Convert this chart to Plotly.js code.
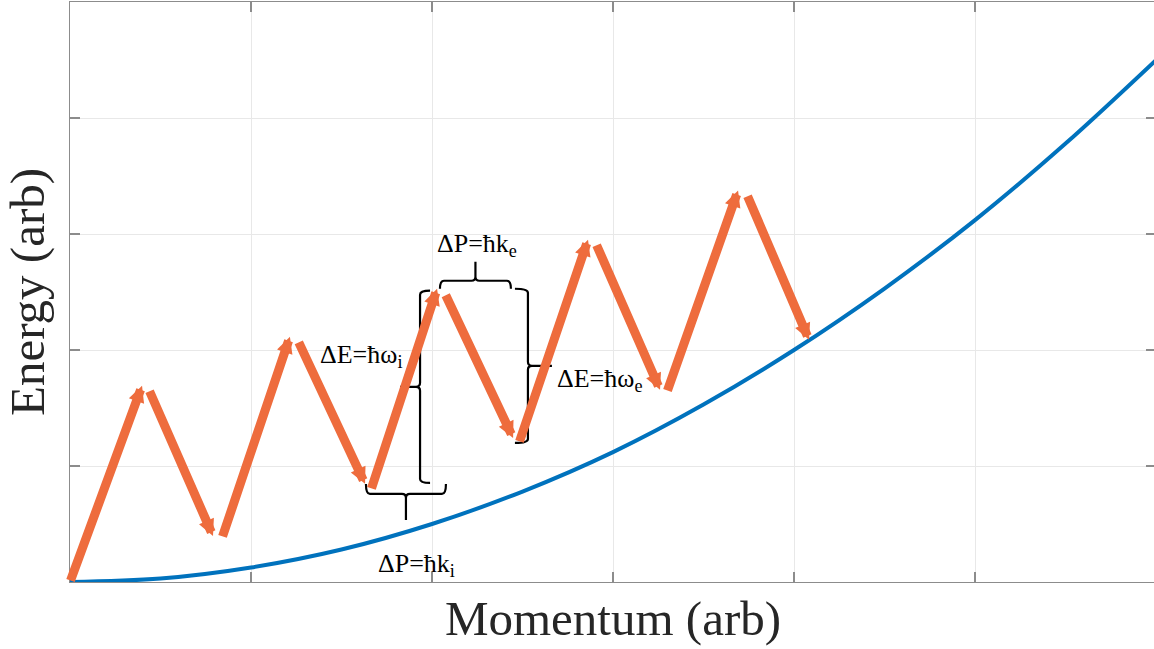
<!DOCTYPE html>
<html>
<head>
<meta charset="utf-8">
<script src="https://cdn.plot.ly/plotly-3.0.1.min.js"></script>
<style>
html,body{margin:0;padding:0;overflow:hidden;background:#fff;}
#plot{width:1156px;height:649px;}
</style>
</head>
<body>
<div id="plot"></div>
<script>
// Blue dispersion curve
const curveX = [0, 0.5, 1, 1.5, 2, 2.5, 3, 3.5, 4, 4.5, 5, 5.5, 6];
const curveY = [0, 0.03, 0.125, 0.28, 0.5, 0.78, 1.12, 1.53, 2.0, 2.53, 3.12, 3.78, 4.5];

// Orange arrows: tails and heads
const tailX = [0.00, 0.436, 0.840, 1.260, 1.663, 2.072, 2.481, 2.906, 3.298, 3.740];
const tailY = [0.00, 1.657, 0.380, 2.079, 0.794, 2.485, 1.199, 2.916, 1.639, 3.339];
const headX = [0.398, 0.790, 1.215, 1.630, 2.028, 2.448, 2.862, 3.260, 3.691, 4.083];
const headY = [1.691, 0.397, 2.114, 0.846, 2.528, 1.242, 2.951, 1.657, 3.374, 2.088];

// Braces: orientation, fixed coord, span start, span end, tip direction, tip length px, hook length px
const braceOrient = ['v', 'v', 'h', 'h'];
const braceFixed  = [1.934, 2.530, 2.597, 0.759];
const braceFrom   = [0.854, 1.199, 2.044, 1.635];
const braceTo     = [2.511, 2.528, 2.436, 2.077];
const braceTipDir = [-1, 1, 1, -1];
const braceTipLen = [20, 24, 19, 26];
const braceHook   = [10, 13, 8, 10];

// Labels
const labelText = ['ΔE=ħω<sub>i</sub>', 'ΔP=ħk<sub>e</sub>', 'ΔE=ħω<sub>e</sub>', 'ΔP=ħk<sub>i</sub>'];
const labelX = [1.845, 2.249, 2.680, 1.912];
const labelY = [1.950, 2.908, 1.743, 0.147];
const labelAnchor = ['right', 'center', 'left', 'center'];

const SERIF = '"Liberation Serif", "Times New Roman", Times, serif';
const X_RANGE = [0, 6], Y_RANGE = [0, 5];
const M = {l: 70, r: 0, t: 2, b: 67};
const W = 1156, H = 649;
const pxX = (X_RANGE[1] - X_RANGE[0]) / (W - M.l - M.r);
const pxY = (Y_RANGE[1] - Y_RANGE[0]) / (H - M.t - M.b);

function bracePath(i) {
  const o = braceOrient[i], f = braceFixed[i], a = braceFrom[i], b = braceTo[i];
  const d = braceTipDir[i], tip = braceTipLen[i], hook = braceHook[i];
  const m = (a + b) / 2;
  if (o === 'v') {
    const r = 4 * pxY, hx = -d * hook * pxX, tx = d * tip * pxX, rx = d * 4 * pxX;
    return `M${f + hx},${a} Q${f},${a} ${f},${a + r} L${f},${m - r} Q${f},${m} ${f + rx},${m} L${f + tx},${m} ` +
           `M${f + rx},${m} Q${f},${m} ${f},${m + r} L${f},${b - r} Q${f},${b} ${f + hx},${b}`;
  } else {
    const r = 4 * pxX, hy = -d * hook * pxY, ty = d * tip * pxY, ry = d * 4 * pxY;
    return `M${a},${f + hy} Q${a},${f} ${a + r},${f} L${m - r},${f} Q${m},${f} ${m},${f + ry} L${m},${f + ty} ` +
           `M${m},${f + ry} Q${m},${f} ${m + r},${f} L${b - r},${f} Q${b},${f} ${b},${f + hy}`;
  }
}

const shapes = braceOrient.map((_, i) => ({
  type: 'path', xref: 'x', yref: 'y', path: bracePath(i),
  line: {color: '#000000', width: 2.2}
}));

const annotations = [];
for (let i = 0; i < tailX.length; i++) {
  annotations.push({
    x: headX[i], y: headY[i], ax: tailX[i], ay: tailY[i],
    xref: 'x', yref: 'y', axref: 'x', ayref: 'y',
    text: '', showarrow: true, arrowhead: 2, arrowsize: 0.36,
    arrowwidth: 9, arrowcolor: '#EE6C3D', standoff: 0, startstandoff: 0
  });
}
for (let i = 0; i < labelText.length; i++) {
  annotations.push({
    x: labelX[i], y: labelY[i], xref: 'x', yref: 'y', text: labelText[i],
    showarrow: false, xanchor: labelAnchor[i], yanchor: 'middle',
    font: {family: SERIF, size: 26, color: '#000000'}
  });
}

const axisCommon = {
  showgrid: true, gridcolor: '#E8E8E8', gridwidth: 1,
  showline: true, linecolor: '#8C8C8C', linewidth: 1, mirror: 'ticks',
  ticks: 'inside', ticklen: 10, tickcolor: '#8C8C8C', tickwidth: 1.5,
  showticklabels: false, zeroline: false, dtick: 1
};

const layout = {
  width: W, height: H,
  margin: M,
  paper_bgcolor: '#ffffff', plot_bgcolor: '#ffffff',
  showlegend: false,
  font: {family: SERIF},
  xaxis: Object.assign({}, axisCommon, {
    range: X_RANGE, tick0: 0,
    title: {text: 'Momentum (arb)', standoff: 18,
            font: {family: SERIF, size: 49, color: '#262626'}}
  }),
  yaxis: Object.assign({}, axisCommon, {
    range: Y_RANGE, tick0: 0,
    title: {text: 'Energy (arb)', standoff: 16,
            font: {family: SERIF, size: 49, color: '#262626'}}
  }),
  shapes: shapes,
  annotations: annotations
};

const traces = [{
  x: curveX, y: curveY, type: 'scatter', mode: 'lines',
  line: {color: '#0072BD', width: 4, shape: 'spline', smoothing: 1},
  hoverinfo: 'skip', cliponaxis: false
}];

Plotly.newPlot('plot', traces, layout, {displayModeBar: false, staticPlot: true});
</script>
</body>
</html>
